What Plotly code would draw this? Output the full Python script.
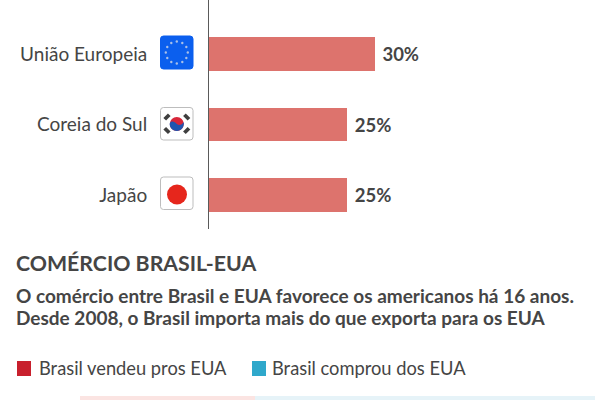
import math

import plotly.graph_objects as go

FONT = "Lato"
TEXT_COLOR = "#454545"
WIDTH = 600
HEIGHT = 400

# the top row is cut off by the crop, only its lower edge shows
categories = [" ", "União Europeia", "Coreia do Sul", "Japão"]
values = [30, 30, 25, 25]
value_labels = ["", "\u00a030%", "\u00a025%", "\u00a025%"]

# next chart, only the top few pixels are visible
strip_sold = [175]
strip_bought = [340]

title = "COMÉRCIO BRASIL-EUA"
subtitle_lines = [
    "O comércio entre Brasil e EUA favorece os americanos há 16 anos.",
    "Desde 2008, o Brasil importa mais do que exporta para os EUA",
]
legend_labels = ["Brasil vendeu pros EUA", "Brasil comprou dos EUA"]
legend_colors = ["#c8202d", "#2fa8cb"]


def fx(px):
    return px / WIDTH


def fy(py):
    return 1 - py / HEIGHT


def p(px, py):
    return f"{fx(px):.5f},{fy(py):.5f}"


def rounded_box(x0, y0, x1, y1, r, fill, line):
    path = (
        f"M{p(x0 + r, y0)} L{p(x1 - r, y0)} Q{p(x1, y0)} {p(x1, y0 + r)} "
        f"L{p(x1, y1 - r)} Q{p(x1, y1)} {p(x1 - r, y1)} "
        f"L{p(x0 + r, y1)} Q{p(x0, y1)} {p(x0, y1 - r)} "
        f"L{p(x0, y0 + r)} Q{p(x0, y0)} {p(x0 + r, y0)} Z"
    )
    return dict(
        type="path", xref="paper", yref="paper", path=path,
        fillcolor=fill, line=dict(color=line, width=1),
    )


def circle(cx, cy, r, fill):
    return dict(
        type="circle", xref="paper", yref="paper",
        x0=fx(cx - r), x1=fx(cx + r), y0=fy(cy + r), y1=fy(cy - r),
        fillcolor=fill, line=dict(width=0),
    )


def trigram(cx, cy, angle):
    dx, dy = math.cos(angle) * 3.2, math.sin(angle) * 3.2
    nx, ny = -math.sin(angle) * 1.9, math.cos(angle) * 1.9
    path = (
        f"M{p(cx - dx - nx, cy - dy - ny)} L{p(cx + dx - nx, cy + dy - ny)} "
        f"L{p(cx + dx + nx, cy + dy + ny)} L{p(cx - dx + nx, cy - dy + ny)} Z"
    )
    return dict(
        type="path", xref="paper", yref="paper", path=path,
        fillcolor="#3f3f3f", line=dict(width=0),
    )


shapes = []

# EU flag
shapes.append(rounded_box(160.5, 36, 193, 69, 3, "#0b5fee", "#0b5fee"))
for i in range(12):
    a = i * math.pi / 6
    shapes.append(circle(176.8 + 11 * math.cos(a), 52.5 + 11 * math.sin(a), 1.2, "#a9c0e8"))

# South Korea flag
shapes.append(rounded_box(160.5, 107.5, 193, 140, 3, "#ffffff", "#bdbdbd"))
shapes.append(circle(176.8, 124, 7, "#d8263a"))
shapes.append(dict(
    type="path", xref="paper", yref="paper",
    path=(
        f"M{p(169.8, 123)} C{p(172, 120)} {p(175, 122)} {p(176.8, 124)} "
        f"C{p(179, 126)} {p(182, 125)} {p(183.8, 122)} "
        f"C{p(184.5, 127)} {p(181, 131)} {p(176.8, 131)} "
        f"C{p(172.5, 131)} {p(169, 127)} {p(169.8, 123)} Z"
    ),
    fillcolor="#1f55b0", line=dict(width=0),
))
for cx, cy, a in [
    (167, 117, -math.pi / 4),
    (186.7, 117, math.pi / 4),
    (167, 130.5, math.pi / 4),
    (186.7, 130.5, -math.pi / 4),
]:
    shapes.append(trigram(cx, cy, a))

# Japan flag
shapes.append(rounded_box(160.5, 177, 193, 209.5, 3, "#ffffff", "#bdbdbd"))
shapes.append(circle(177, 194.5, 10, "#e6261c"))

# legend swatches
shapes.append(dict(
    type="rect", xref="paper", yref="paper",
    x0=fx(17), x1=fx(31), y0=fy(376), y1=fy(361),
    fillcolor=legend_colors[0], line=dict(width=0),
))
shapes.append(dict(
    type="rect", xref="paper", yref="paper",
    x0=fx(252), x1=fx(266), y0=fy(376), y1=fy(361),
    fillcolor=legend_colors[1], line=dict(width=0),
))


def text(px, py, s, size, weight=400, color=TEXT_COLOR):
    return dict(
        xref="paper", yref="paper", x=fx(px), y=fy(py), text=s, showarrow=False,
        xanchor="left", yanchor="middle", align="left",
        xshift=-3, font=dict(family=FONT, size=size, color=color, weight=weight),
    )


annotations = [
    text(17, 263, title, 21.3, 700),
    text(17, 295, subtitle_lines[0], 19, 700),
    text(17, 317, subtitle_lines[1], 19, 700),
    text(40, 368, legend_labels[0], 18.3),
    text(273, 368, legend_labels[1], 18.3),
]

fig = go.Figure()
fig.add_trace(go.Bar(
    x=values, y=categories, orientation="h", width=0.48,
    marker=dict(color="#dd736d", line=dict(width=0)),
    text=value_labels, textposition="outside", cliponaxis=True,
    textfont=dict(family=FONT, size=18.5, color=TEXT_COLOR, weight=700),
    showlegend=False,
))
fig.add_trace(go.Bar(
    x=strip_sold, y=[0], orientation="h", xaxis="x2", yaxis="y2", width=1,
    marker=dict(color="#fbe4e2", line=dict(width=0)), showlegend=False,
))
fig.add_trace(go.Bar(
    x=strip_bought, y=[0], orientation="h", xaxis="x2", yaxis="y2", width=1,
    marker=dict(color="#e6f3f8", line=dict(width=0)), showlegend=False,
))

fig.update_layout(
    width=WIDTH, height=HEIGHT, margin=dict(l=0, r=0, t=0, b=0),
    paper_bgcolor="#ffffff", plot_bgcolor="rgba(0,0,0,0)",
    barmode="stack", shapes=shapes, annotations=annotations,
    uniformtext=dict(mode=False),
    xaxis=dict(
        domain=[fx(209), 1], range=[0, (WIDTH - 209) / 5.53],
        visible=False, fixedrange=True,
    ),
    yaxis=dict(
        domain=[fy(229), 1], type="category", categoryorder="array",
        categoryarray=categories, range=[3.48, 0.235],
        showgrid=False, zeroline=False, showline=True, linecolor="#5a5a5a", linewidth=1,
        ticks="", ticklabelstandoff=57,
        tickfont=dict(family=FONT, size=19, color=TEXT_COLOR),
    ),
    xaxis2=dict(
        domain=[fx(80), fx(595)], range=[0, 515], anchor="y2",
        visible=False,
    ),
    yaxis2=dict(
        domain=[0, fy(396)], range=[-0.5, 0.5], anchor="x2",
        visible=False,
    ),
)

fig.write_html(
    "out.html",
    config={"displayModeBar": False},
    post_script="document.body.style.margin='0';document.body.style.overflow='hidden';",
)
